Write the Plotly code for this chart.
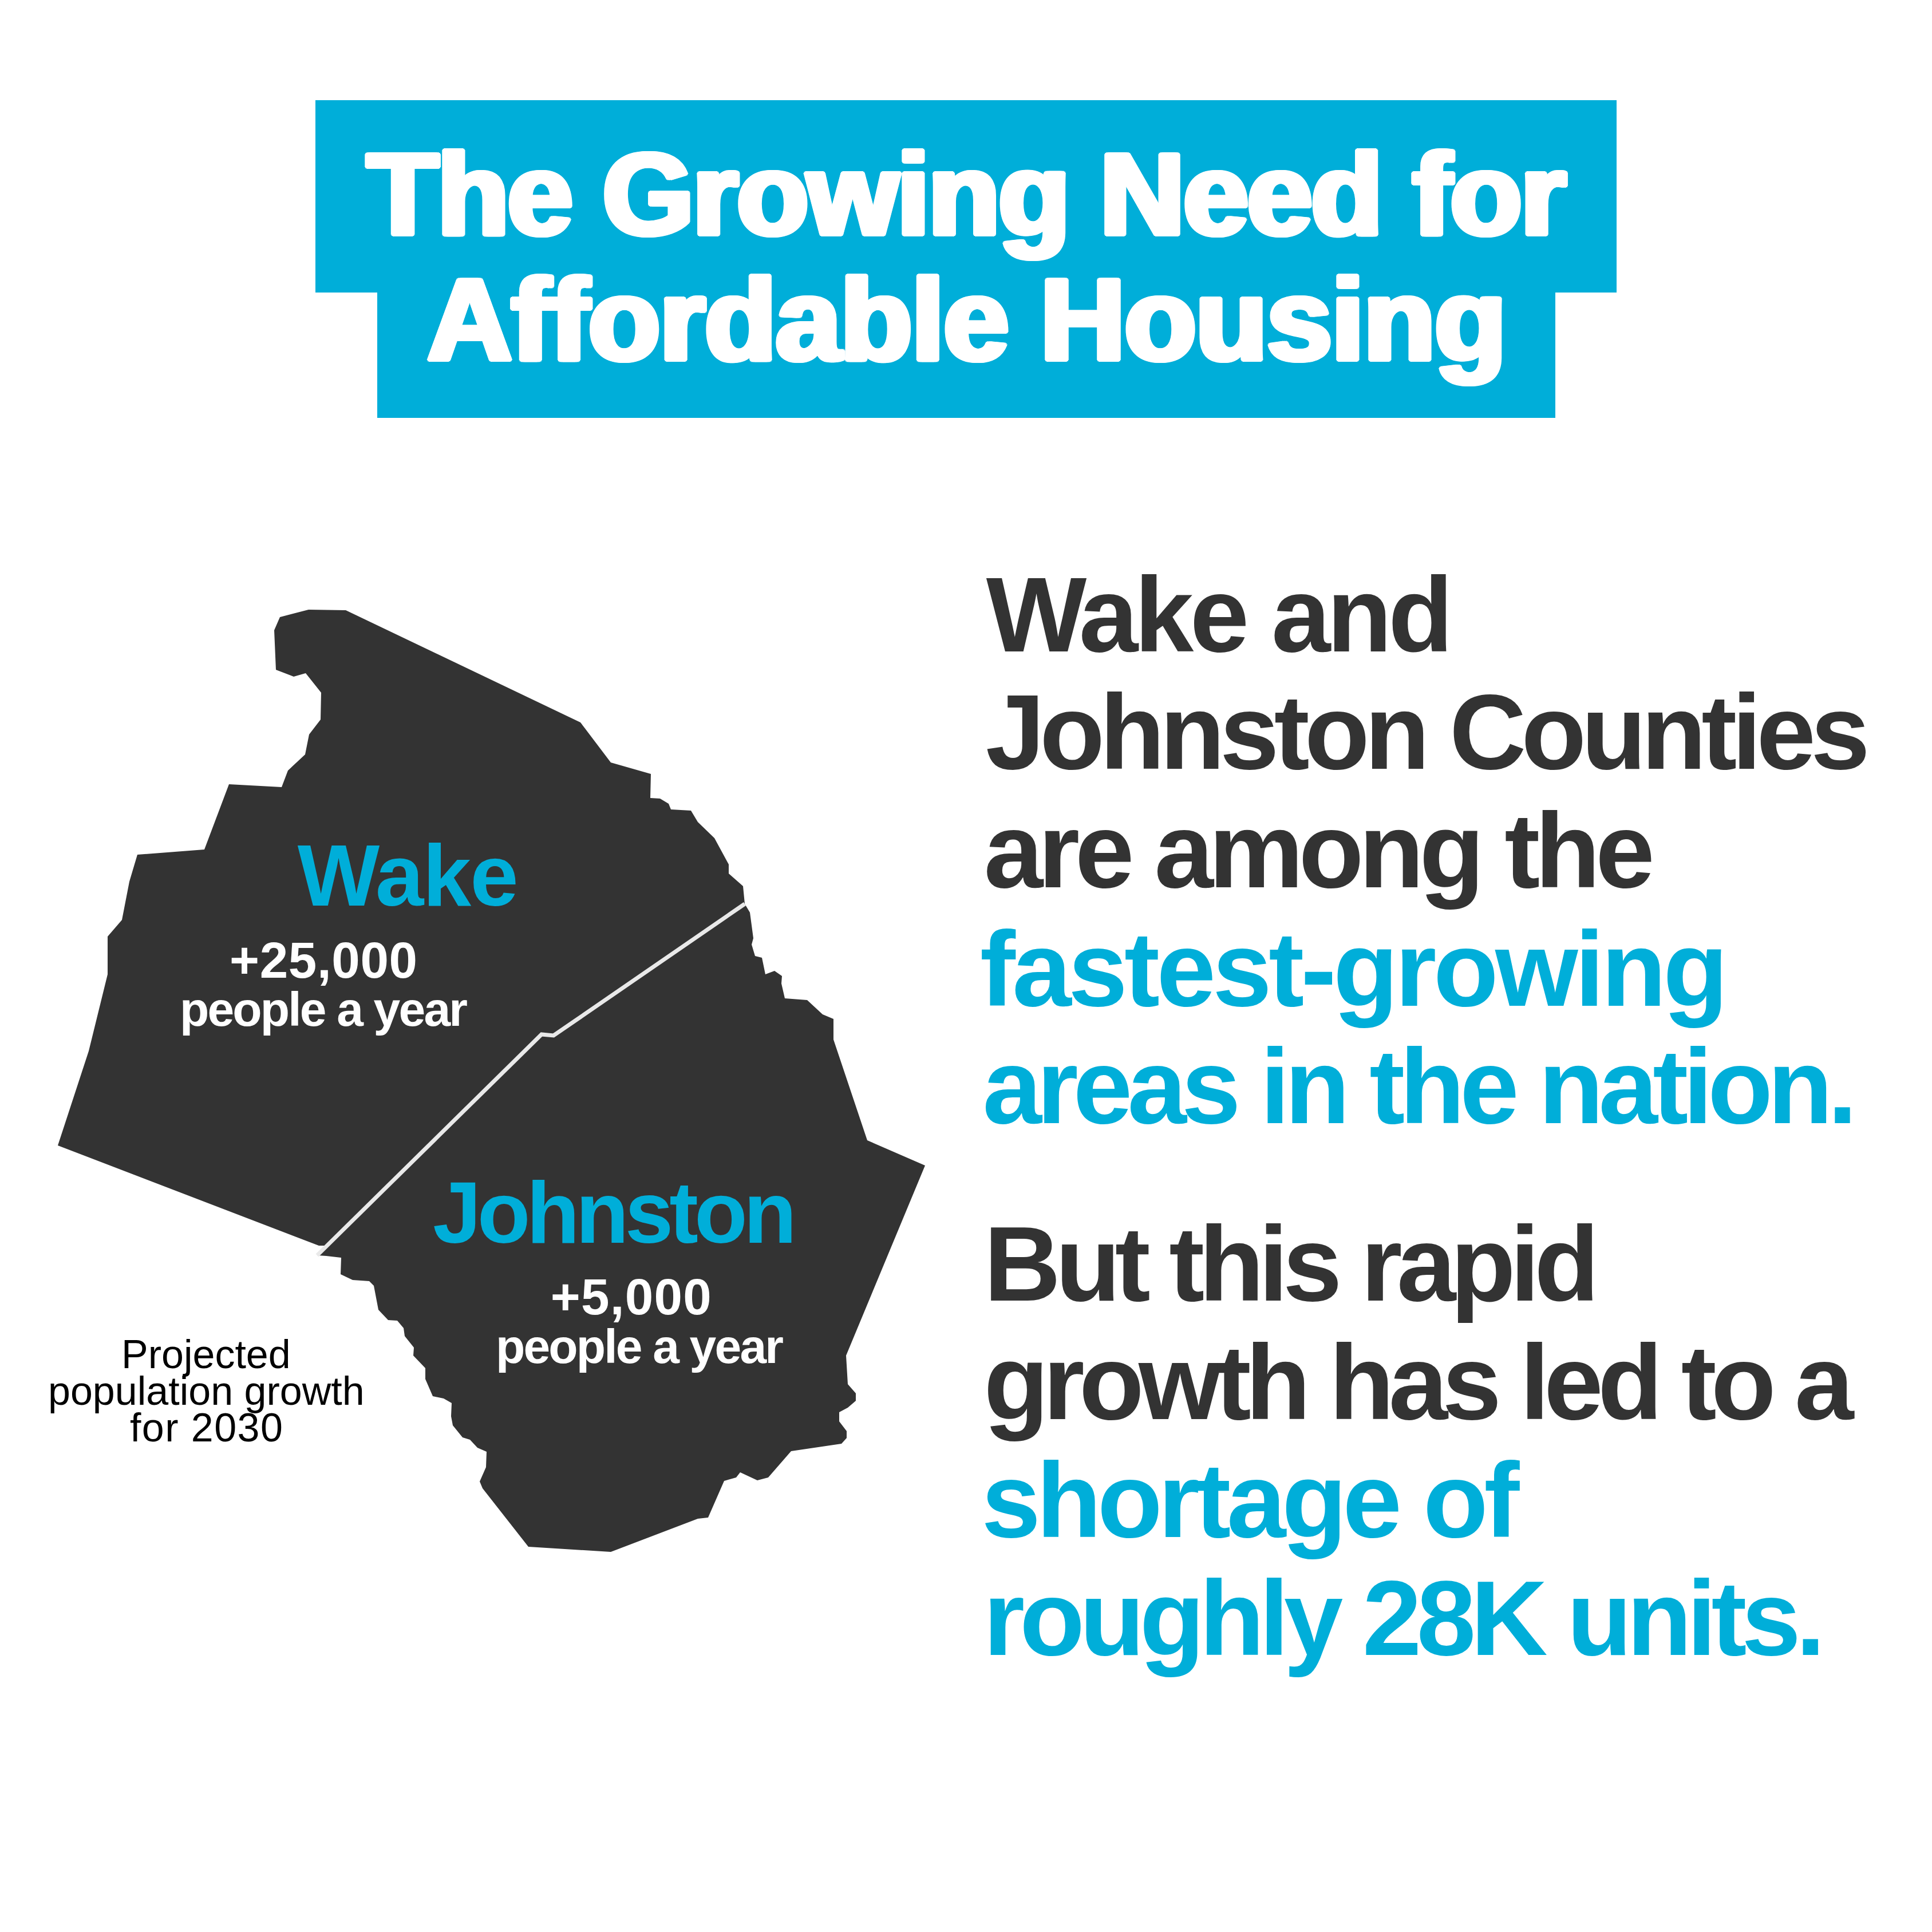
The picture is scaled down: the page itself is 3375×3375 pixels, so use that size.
import json
import plotly.graph_objects as go

BLUE = "#00aed9"
DARK = "#333333"

# ----- Map outlines -----
wake_x = [489, 539, 604, 1014, 1067, 1137, 1136, 1153, 1168, 1172, 1207, 1219, 1248, 1273, 1273, 1298, 1301,
          967, 946, 571, 557, 101, 155, 188, 188, 213, 226, 240, 357, 400, 492, 503, 533, 540, 560, 561, 534, 513,
          482, 479]
wake_y = [1078, 1065, 1066, 1262, 1332, 1352, 1394, 1395, 1404, 1414, 1416, 1436, 1464, 1510, 1526, 1548, 1579,
          1809, 1807, 2176, 2176, 2001, 1836, 1702, 1636, 1607, 1540, 1493, 1484, 1370, 1375, 1346, 1318, 1283,
          1257, 1210, 1176, 1182, 1170, 1101]

johnston_x = [1301, 1310, 1316, 1313, 1319, 1331, 1337, 1353, 1366, 1365, 1371, 1410, 1437, 1456, 1456, 1515, 1616,
              1478, 1481, 1495, 1495, 1481, 1466, 1466, 1479, 1479, 1470, 1382, 1342, 1323, 1293, 1286, 1265, 1237,
              1219, 1067, 923, 843, 838, 849, 850, 834, 821, 808, 791, 788, 789, 775, 756, 743, 743, 722, 723, 707,
              705, 694, 678, 661, 653, 645, 616, 595, 596, 570, 554, 946, 967]
johnston_y = [1579, 1594, 1639, 1650, 1670, 1673, 1702, 1696, 1705, 1718, 1744, 1747, 1772, 1780, 1816, 1992, 2036,
              2368, 2418, 2434, 2447, 2459, 2467, 2483, 2500, 2512, 2522, 2535, 2581, 2586, 2572, 2581, 2587, 2651,
              2653, 2711, 2702, 2600, 2588, 2563, 2536, 2529, 2515, 2511, 2490, 2474, 2451, 2443, 2439, 2409, 2390,
              2368, 2354, 2334, 2320, 2307, 2306, 2288, 2246, 2238, 2236, 2226, 2197, 2194, 2193, 1807, 1809]

border_x = [1301, 967, 946, 554]
border_y = [1579, 1809, 1807, 2193]

# ----- Text -----
title_lines = ["The Growing Need for", "Affordable Housing"]
body_lines = [
    "Wake and",
    "Johnston Counties",
    "are among the",
    "fastest-growing",
    "areas in the nation.",
    "But this rapid",
    "growth has led to a",
    "shortage of",
    "roughly 28K units.",
]
county_names = ["Wake", "Johnston"]
growth_values = ["+25,000", "+5,000"]
growth_unit = "people a year"
caption_lines = ["Projected", "population growth", "for 2030"]

fig = go.Figure()

for xs, ys in [(wake_x, wake_y), (johnston_x, johnston_y)]:
    fig.add_trace(go.Scatter(x=xs, y=ys, mode="lines", fill="toself", fillcolor=DARK,
                             line=dict(width=0), hoverinfo="skip"))
fig.add_trace(go.Scatter(x=border_x, y=border_y, mode="lines",
                         line=dict(color="#e9e9e9", width=7), hoverinfo="skip"))

# title banner, two overlapping blocks
fig.add_shape(type="rect", x0=551, x1=2824, y0=175, y1=511, fillcolor=BLUE, line_width=0, layer="below")
fig.add_shape(type="rect", x0=659, x1=2717, y0=500, y1=730, fillcolor=BLUE, line_width=0, layer="below")


def label(text, cx, baseline, size, color, weight=700, shadow="none"):
    fig.add_annotation(
        x=cx, y=baseline + 0.212 * size, text=text, showarrow=False,
        xanchor="center", yanchor="bottom", borderpad=0,
        font=dict(family="Liberation Sans", size=size, color=color, weight=weight, shadow=shadow),
    )


heavy = ("6px 0 0 #fff, -6px 0 0 #fff, 0 3px 0 #fff, 0 -3px 0 #fff, 5px 2px 0 #fff, -5px 2px 0 #fff, "
         "5px -2px 0 #fff, -5px -2px 0 #fff, 3px 3px 0 #fff, -3px 3px 0 #fff, 3px -3px 0 #fff, -3px -3px 0 #fff")
label(title_lines[0], 1688, 411, 205, "#ffffff", shadow=heavy)
label(title_lines[1], 1689, 630, 205, "#ffffff", shadow=heavy)

body_cx = [2130, 2494, 2304, 2365, 2480, 2256, 2479, 2185, 2453]
body_base = [1139, 1344, 1551, 1758, 1963, 2273, 2480, 2686, 2892]
body_color = [DARK, DARK, DARK, BLUE, BLUE, DARK, DARK, BLUE, BLUE]
for text, cx, base, color in zip(body_lines, body_cx, body_base, body_color):
    label(text, cx, base, 186, color)

label(county_names[0], 712, 1583, 152, BLUE)
label(county_names[1], 1074, 2172, 152, BLUE)
label(growth_values[0], 565, 1709, 89, "#ffffff")
label(growth_values[1], 1102, 2297, 89, "#ffffff")
label(growth_unit, 565, 1793, 84, "#ffffff")
label(growth_unit, 1117, 2382, 84, "#ffffff")

for text, base in zip(caption_lines, [2391, 2455, 2519]):
    label(text, 360, base, 70, "#000000", weight=400)

fig.update_layout(
    width=3375, height=3375, showlegend=False,
    margin=dict(l=0, r=0, t=0, b=0),
    paper_bgcolor="#ffffff", plot_bgcolor="#ffffff",
    xaxis=dict(range=[0, 3375], visible=False, fixedrange=True),
    yaxis=dict(range=[3375, 0], visible=False, fixedrange=True),
)

# plotly has no letter spacing setting and the original face is set tighter than Liberation,
# so each line gets the width it has in the picture
line_widths = dict(zip(
    title_lines + body_lines + county_names + growth_values + [growth_unit, caption_lines[2]],
    [2095, 1885, 816, 1545, 1172, 1307, 1528, 1075, 1520, 940, 1471, 386, 636, 328, 281, 503, 267],
))
fit_lines = """
document.body.style.margin = '0';
var widths = %s;
document.querySelectorAll('.annotation-text').forEach(function (t) {
  var w = widths[t.textContent];
  if (w) { t.setAttribute('textLength', w); t.setAttribute('lengthAdjust', 'spacing'); }
});
""" % json.dumps(line_widths)
fig.write_html("out.html", post_script=fit_lines, config={"displayModeBar": False})
